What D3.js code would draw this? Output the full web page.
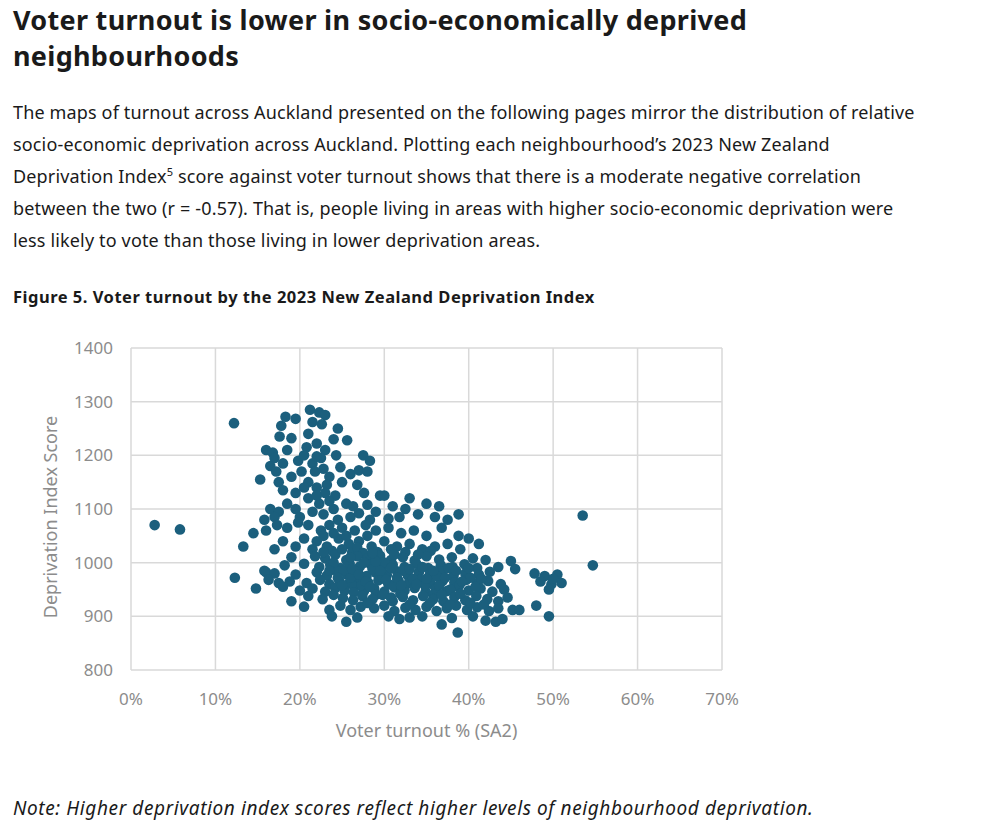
<!DOCTYPE html>
<html><head><meta charset="utf-8">
<script src="https://cdn.jsdelivr.net/npm/d3@7"></script>
<style>
body{margin:0;background:#fff;font-family:"Noto Sans",sans-serif;color:#1a1a1a;width:988px;height:830px;position:relative;overflow:hidden}
h1{position:absolute;left:13px;top:2px;margin:0;font-size:27px;line-height:36px;font-weight:700;letter-spacing:0.3px;white-space:nowrap}
p.body{position:absolute;left:13px;top:96px;margin:0;font-size:18px;line-height:32px;white-space:nowrap;letter-spacing:0.15px}
sup{font-size:11px;line-height:0}
p.cap{position:absolute;left:13px;top:285px;margin:0;font-size:16.5px;font-weight:700;letter-spacing:0.5px}
p.note{position:absolute;left:13px;top:795px;margin:0;font-size:19px;font-style:italic;letter-spacing:0.6px}
svg{position:absolute;left:0;top:0}
</style></head><body>
<h1>Voter turnout is lower in socio-economically deprived<br>neighbourhoods</h1>
<p class="body">The maps of turnout across Auckland presented on the following pages mirror the distribution of relative<br>socio-economic deprivation across Auckland. Plotting each neighbourhood’s 2023 New Zealand<br>Deprivation Index<sup>5</sup> score against voter turnout shows that there is a moderate negative correlation<br>between the two (r = -0.57). That is, people living in areas with higher socio-economic deprivation were<br>less likely to vote than those living in lower deprivation areas.</p>
<p class="cap">Figure 5. Voter turnout by the 2023 New Zealand Deprivation Index</p>
<p class="note">Note: Higher deprivation index scores reflect higher levels of neighbourhood deprivation.</p>
<svg id="chart" width="988" height="830"></svg>
<script>
const xTicks = [0, 10, 20, 30, 40, 50, 60, 70];
const yTicks = [800, 900, 1000, 1100, 1200, 1300, 1400];
const xTitle = "Voter turnout % (SA2)";
const yTitle = "Deprivation Index Score";

// [turnout %, deprivation score]
const outliers = [[2.8,1070],[5.8,1062],[12.2,1260],[12.3,972],[13.3,1030],[15.3,1155],[15.8,985],[53.5,1088],[54.7,995],[38.7,870]];
const upper = [[21.2,1285],[22.3,1280],[23.0,1275],[18.3,1272],[19.5,1268],[21.5,1262],[22.6,1258],[24.5,1250],[17.8,1255],[21.0,1240],[24.0,1230],[25.6,1228],[17.6,1235],[19.0,1232],[22.0,1222],[16.0,1210],[16.8,1205],[17.0,1195],[18.5,1210],[20.8,1215],[23.0,1210],[24.3,1200],[27.5,1200],[28.3,1190],[22.5,1195],[19.8,1190],[16.5,1180],[17.2,1170],[18.0,1185],[21.5,1185],[20.2,1170],[22.8,1175],[24.8,1178],[26.0,1165],[25.0,1150],[23.5,1160],[19.0,1160],[17.5,1150],[21.0,1150],[22.0,1140],[27.0,1172],[28.0,1170],[22.0,1198],[21.8,1170],[23.2,1145],[20.5,1200]];
const middleUpper = [[18.0,1135],[19.5,1130],[20.5,1140],[23.0,1130],[24.2,1125],[26.8,1145],[27.6,1130],[29.5,1125],[30.0,1125],[33.0,1120],[16.5,1100],[17.5,1095],[18.5,1110],[19.5,1100],[21.0,1120],[22.3,1110],[24.0,1100],[25.5,1110],[26.3,1105],[28.0,1108],[29.0,1095],[31.0,1105],[32.5,1100],[34.0,1090],[35.0,1110],[36.0,1085],[37.5,1080],[38.8,1090],[36.5,1105],[15.8,1080],[17.0,1085],[20.0,1085],[22.8,1090],[24.5,1080],[26.0,1085],[28.3,1080],[30.5,1082],[31.8,1085],[21.5,1095],[22.0,1125],[23.5,1115],[27.0,1092]];
const middle = [[14.5,1055],[16.0,1060],[17.3,1070],[18.5,1065],[19.8,1075],[21.0,1070],[22.5,1060],[23.5,1070],[25.0,1065],[26.5,1060],[27.8,1070],[29.0,1060],[30.5,1065],[32.0,1055],[33.5,1060],[35.0,1050],[36.8,1065],[38.8,1050],[40.0,1045],[41.2,1035],[18.0,1040],[19.5,1030],[20.5,1045],[22.0,1040],[23.2,1030],[24.6,1045],[25.8,1035],[27.0,1040],[28.5,1030],[30.0,1040],[31.5,1030],[33.0,1035],[34.5,1025],[36.0,1030],[37.5,1035],[39.0,1025],[17.0,1025],[21.5,1025],[26.2,1020],[29.2,1020],[32.5,1020],[35.5,1022],
[22.8,1050],[24.0,1055],[25.5,1050],[26.8,1028],[28.0,1050],[23.8,1022],[27.5,1018],[30.8,1025]];
const core = [[19.0,1010],[21.8,1012],[23.0,1008],[24.2,1015],[25.5,1005],[26.8,1012],[28.0,1008],[29.5,1013],[30.8,1005],[32.2,1010],[33.6,1004],[35.0,1012],[36.5,1006],[38.0,1010],[40.5,1008],[42.0,1005],[45.0,1003],
[18.2,995],[20.5,998],[22.3,992],[23.6,996],[24.8,990],[25.9,998],[27.1,993],[28.4,997],[29.7,991],[31.0,996],[32.4,992],[33.8,998],[35.2,990],[36.7,995],[38.1,992],[39.5,997],[41.0,990],[43.5,992],[45.5,988],
[16.0,982],[17.0,980],[19.5,978],[22.0,982],[23.2,976],[24.4,984],[25.6,978],[26.7,983],[27.9,975],[29.0,981],[30.3,977],[31.5,984],[32.8,976],[34.1,982],[35.4,978],[36.8,984],[38.2,975],[39.6,980],[41.2,978],[42.5,983],[47.8,980],[49.0,975],[50.5,978],
[16.3,968],[17.5,962],[18.8,965],[20.8,962],[22.4,968],[23.5,960],[24.7,966],[25.8,961],[26.9,969],[28.1,963],[29.3,967],[30.5,960],[31.7,966],[32.9,962],[34.2,968],[35.5,961],[36.9,966],[38.3,963],[39.7,968],[41.0,962],[42.3,966],[43.8,960],[48.5,965],[49.8,960],[51.0,962],[50.0,970],
[14.8,952],[18.0,955],[20.0,948],[21.5,952],[23.0,946],[24.2,953],[25.3,948],[26.5,955],[27.6,947],[28.8,952],[30.0,946],[31.2,954],[32.4,948],[33.6,953],[34.9,946],[36.1,952],[37.4,947],[38.7,955],[40.0,948],[41.4,952],[42.8,946],[44.2,950],[49.5,950],
[24.0,1000],[25.2,985],[26.0,972],[27.3,958],[28.6,988],[29.8,973],[31.0,958],[32.2,985],[33.4,970],[27.6,1000],[30.0,1000],[26.4,945],[29.0,940],[31.9,942],[34.8,958],[36.2,975],[37.6,990],[38.9,958],[40.2,972],[35.8,940],
[23.5,985],[24.5,972],[25.0,958],[25.8,1000],[26.2,988],[27.0,978],[27.8,965],[28.3,955],[29.0,1002],[29.5,985],[30.2,968],[30.8,990],[31.5,972],[32.0,958],[33.0,988],[33.8,960],[34.5,992],[35.0,970],[35.8,985],[36.5,958],[37.2,972],[37.8,950],[38.5,985],[39.2,965],[40.0,990],[40.8,955],[41.5,970],[26.0,1010],[28.6,1018],[31.2,1015],[34.0,1015],[22.8,1020],[25.0,1025]];
const lower = [[19.0,928],[21.0,938],[22.7,932],[24.0,940],[25.1,934],[26.3,930],[27.4,938],[28.6,932],[29.8,940],[31.0,928],[32.2,936],[33.4,930],[34.6,938],[35.8,932],[37.0,928],[38.3,936],[39.6,930],[40.9,938],[42.2,932],[43.5,928],[44.6,935],
[20.5,918],[23.5,912],[24.8,920],[26.0,912],[27.2,918],[28.8,915],[30.0,920],[31.2,910],[32.5,916],[33.7,912],[35.0,918],[36.2,910],[37.4,915],[38.5,920],[39.8,912],[41.0,917],[42.4,910],[43.5,915],[45.2,912],[46.0,912],[48.0,920],
[23.8,900],[25.5,890],[26.8,898],[30.5,900],[31.8,895],[33.0,898],[34.5,900],[36.8,885],[38.0,897],[40.5,900],[42.0,892],[43.2,890],[44.0,895],[49.5,900],
[28.0,925],[30.8,935],[33.0,922],[35.4,925],[37.8,922],[40.2,925],[36.8,940],[39.0,942],[41.8,922]];
const points = [].concat(outliers, upper, middleUpper, middle, core, lower);

const svg = d3.select("#chart");
const x = d3.scaleLinear().domain([0, 70]).range([131, 722]);
const y = d3.scaleLinear().domain([800, 1400]).range([670, 348]);
const grid = "#d9d9d9", tickCol = "#8c8c8c";

svg.append("g").selectAll("line").data(xTicks).join("line")
  .attr("x1", d => x(d)).attr("x2", d => x(d)).attr("y1", y(1400)).attr("y2", y(800))
  .attr("stroke", grid).attr("stroke-width", 1.5);
svg.append("g").selectAll("line").data(yTicks).join("line")
  .attr("x1", x(0)).attr("x2", x(70)).attr("y1", d => y(d)).attr("y2", d => y(d))
  .attr("stroke", grid).attr("stroke-width", 1.5);

svg.append("g").selectAll("text").data(xTicks).join("text")
  .attr("x", d => x(d)).attr("y", 705).attr("text-anchor", "middle")
  .attr("font-size", 17).attr("fill", tickCol).text(d => d + "%");
svg.append("g").selectAll("text").data(yTicks).join("text")
  .attr("x", 113).attr("y", d => y(d) + 6).attr("text-anchor", "end")
  .attr("font-size", 17).attr("fill", tickCol).text(d => d);

svg.append("text").attr("x", (x(0) + x(70)) / 2).attr("y", 737).attr("text-anchor", "middle")
  .attr("font-size", 18).attr("fill", tickCol).text(xTitle);
svg.append("text").attr("transform", `translate(57,${(y(800) + y(1400)) / 2 + 8}) rotate(-90)`)
  .attr("text-anchor", "middle").attr("font-size", 18).attr("fill", tickCol).text(yTitle);

svg.append("g").selectAll("circle").data(points).join("circle")
  .attr("cx", d => x(d[0])).attr("cy", d => y(d[1])).attr("r", 5.3)
  .attr("fill", "#1b5f7d");
</script>
</body></html>
